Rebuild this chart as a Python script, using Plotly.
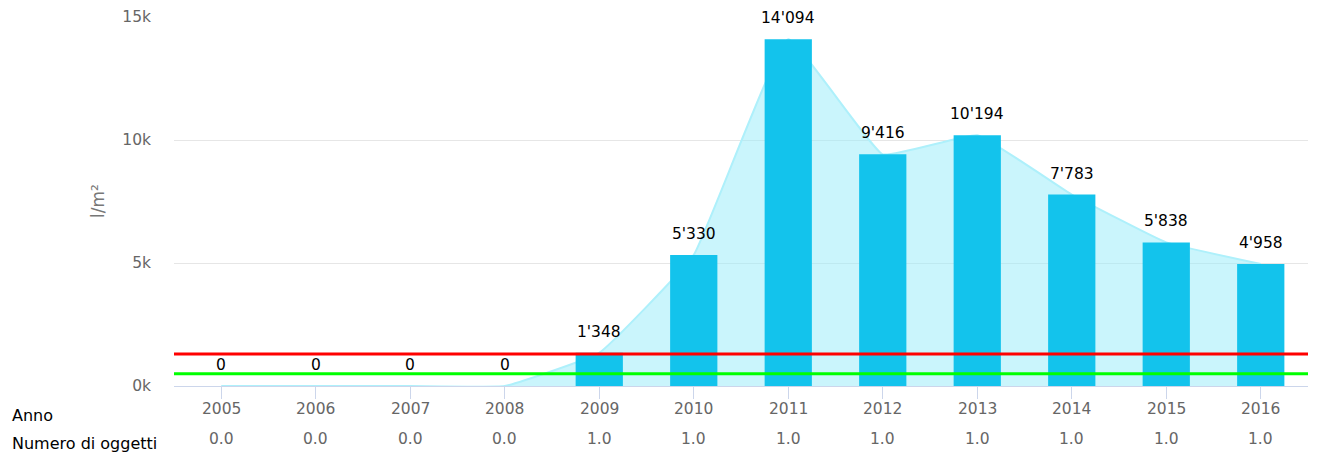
import plotly.graph_objects as go

years = ["2005", "2006", "2007", "2008", "2009", "2010", "2011", "2012", "2013", "2014", "2015", "2016"]
values = [0, 0, 0, 0, 1348, 5330, 14094, 9416, 10194, 7783, 5838, 4958]
objects = [0.0, 0.0, 0.0, 0.0, 1.0, 1.0, 1.0, 1.0, 1.0, 1.0, 1.0, 1.0]
red_level = 1300
green_level = 500
y_ticks = [0, 5000, 10000, 15000]
y_tick_labels = ["0k", "5k", "10k", "15k"]

FONT = "DejaVu Sans"
W, H = 1318, 458
ML, MR, MT, MB = 174, 10, 17, 72
PW, PH = W - ML - MR, H - MT - MB

def px_x(p):
    return (p - ML) / PW

def px_y(p):
    return (H - MB - p) / PH

def fmt(v):
    return f"{v:,}".replace(",", "'")

idx = list(range(len(years)))

fig = go.Figure()
# area (primary axes, drawn first / beneath)
fig.add_trace(go.Scatter(
    x=idx, y=values, mode="lines", fill="tozeroy",
    line=dict(color="#aef0fb", width=2, shape="spline", smoothing=0.3),
    fillcolor="rgba(150,236,250,0.5)", hoverinfo="skip", showlegend=False,
    xaxis="x", yaxis="y",
))
# bars on overlaying axes so they are drawn above the area
fig.add_trace(go.Bar(
    x=idx, y=values, width=0.5,
    marker=dict(color="#13c3ec", line=dict(width=0)),
    showlegend=False, xaxis="x2", yaxis="y2", hoverinfo="skip",
))

# data labels
for i, v in zip(idx, values):
    fig.add_annotation(xref="x2", yref="y2", x=i, y=v, yshift=21, xanchor="center", yanchor="middle",
                       text=fmt(v), showarrow=False, font=dict(family=FONT, size=15.5, color="#000000"))

for lvl, col in [(red_level, "#ff0000"), (green_level, "#00ff00")]:
    fig.add_shape(type="line", xref="paper", x0=0, x1=1, yref="y", y0=lvl, y1=lvl,
                  line=dict(color=col, width=3), layer="above")

# table rows below the axis
fig.add_annotation(xref="paper", yref="paper", x=px_x(10), y=px_y(415), xanchor="left", yanchor="middle",
                   text="Anno", showarrow=False, font=dict(family=FONT, size=16, color="#000000"))
fig.add_annotation(xref="paper", yref="paper", x=px_x(10), y=px_y(443), xanchor="left", yanchor="middle",
                   text="Numero di oggetti", showarrow=False, font=dict(family=FONT, size=16, color="#000000"))
for i, (yr, n) in enumerate(zip(years, objects)):
    fig.add_annotation(xref="x", yref="paper", x=i, y=px_y(409), xanchor="center", yanchor="middle",
                       text=yr, showarrow=False, font=dict(family=FONT, size=15.5, color="#666666"))
    fig.add_annotation(xref="x", yref="paper", x=i, y=px_y(439), xanchor="center", yanchor="middle",
                       text=f"{n:.1f}", showarrow=False, font=dict(family=FONT, size=15.5, color="#666666"))

# y axis title
fig.add_annotation(xref="paper", yref="paper", x=px_x(98), y=px_y(201), xanchor="center", yanchor="middle",
                   text="l/m²", textangle=-90, showarrow=False, font=dict(family=FONT, size=17, color="#777777"))

fig.update_layout(
    width=W, height=H,
    margin=dict(l=ML, r=MR, t=MT, b=MB, autoexpand=False),
    plot_bgcolor="#ffffff", paper_bgcolor="#ffffff",
    font=dict(family=FONT, size=15.5, color="#666666"),
    hovermode=False,
    xaxis=dict(
        range=[-0.5, len(years) - 0.5], showgrid=False, showline=True, linecolor="#ccd6eb", linewidth=1,
        tickmode="array", tickvals=idx, ticktext=years, showticklabels=False,
        ticks="outside", ticklen=12, tickcolor="#ccd6eb", zeroline=False, automargin=False,
    ),
    yaxis=dict(
        range=[0, 15000], tickvals=y_ticks, ticktext=y_tick_labels,
        showgrid=True, gridcolor="#e6e6e6", gridwidth=1, zeroline=False,
        tickfont=dict(family=FONT, size=15.5, color="#666666"), ticklabelstandoff=22,
        automargin=False,
    ),
    xaxis2=dict(overlaying="x", matches="x", visible=False, range=[-0.5, len(years) - 0.5]),
    yaxis2=dict(overlaying="y", matches="y", visible=False, range=[0, 15000]),
)

fig.write_html(
    "out.html",
    config={"displayModeBar": False},
    post_script="document.body.style.margin='0';document.body.style.overflow='hidden';",
)
